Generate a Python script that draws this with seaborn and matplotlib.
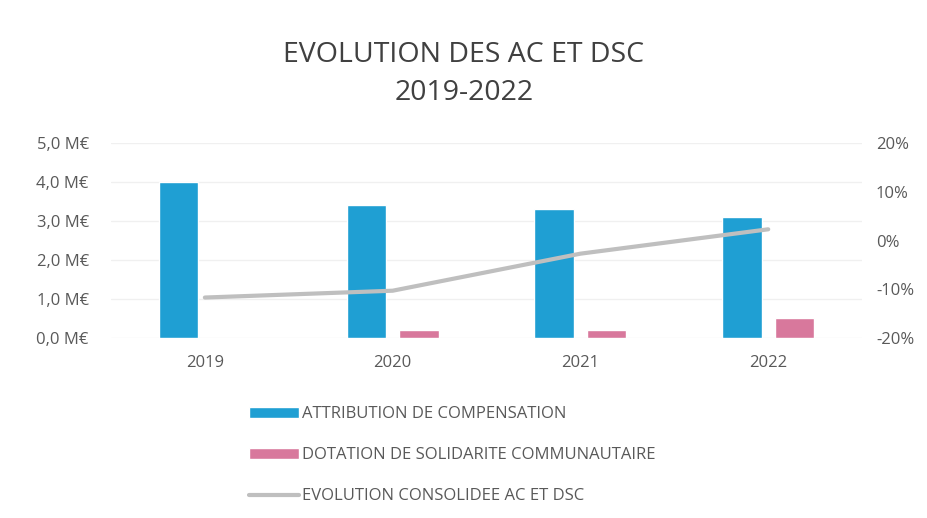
import numpy as np
import pandas as pd
import seaborn as sns
import matplotlib.pyplot as plt
from matplotlib.ticker import FuncFormatter

# =========================
# Data
# =========================
years = ['2019', '2020', '2021', '2022']
ac_values = [4.0, 3.4, 3.3, 3.1]          # M€
dsc_values = [0.0, 0.2, 0.2, 0.5]         # M€
evolution_pct = [-11.7, -10.3, -2.7, 2.3]  # %

label_ac = 'ATTRIBUTION DE COMPENSATION'
label_dsc = 'DOTATION DE SOLIDARITE COMMUNAUTAIRE'
label_evo = 'EVOLUTION CONSOLIDEE AC ET DSC'

df = pd.DataFrame({
    'year': years * 2,
    'value': ac_values + dsc_values,
    'serie': [label_ac] * 4 + [label_dsc] * 4,
})
df_line = pd.DataFrame({'x': np.arange(len(years)), 'evo': evolution_pct})

sns.set_style('white')
plt.rcParams['font.family'] = ['Open Sans', 'DejaVu Sans']
text_col = '#595959'

fig = plt.figure(figsize=(9.28, 5.18), dpi=100)
ax = fig.add_axes([0.1196, 0.3475, 0.8094, 0.3764])

# =========================
# Bars
# =========================
sns.barplot(data=df, x='year', y='value', hue='serie', ax=ax,
            palette=['#1f9fd3', '#d8789c'], width=0.56, gap=0.25,
            saturation=1)
ax.set_ylim(0, 5)
ax.set_yticks([0, 1, 2, 3, 4, 5])
ax.yaxis.set_major_formatter(FuncFormatter(lambda v, p: f'{v:.1f} M€'.replace('.', ',')))
ax.grid(axis='y', color='#f0f0f0', lw=1)
ax.set_axisbelow(True)
ax.set_xlabel('')
ax.set_ylabel('')
ax.tick_params(axis='x', pad=12, labelsize=12, colors=text_col, length=0)
ax.tick_params(axis='y', pad=16, labelsize=12, colors=text_col, length=0)
sns.despine(ax=ax, left=True, bottom=True)
handles, labels = ax.get_legend_handles_labels()
ax.get_legend().remove()

# =========================
# Line (secondary axis)
# =========================
ax2 = ax.twinx()
sns.lineplot(data=df_line, x='x', y='evo', ax=ax2, color='#bfbfbf', lw=3,
             label=label_evo, legend=False)
ax2.set_ylim(-20, 20)
ax2.set_yticks([-20, -10, 0, 10, 20])
ax2.yaxis.set_major_formatter(FuncFormatter(lambda v, p: f'{v:.0f}%'))
ax2.set_ylabel('')
ax2.tick_params(axis='y', pad=10, labelsize=12, colors=text_col, length=0)
sns.despine(ax=ax2, left=True, bottom=True, right=True)
ax.set_xlim(-0.5, 3.5)
h2, l2 = ax2.get_legend_handles_labels()

# =========================
# Title and legend
# =========================
fig.text(0.5, 0.857, 'EVOLUTION DES AC ET DSC\n2019-2022', ha='center', va='center',
         fontsize=20.5, color='#404040', linespacing=1.5)

fig.legend(handles + h2, labels + l2, loc='upper left', bbox_to_anchor=(0.252, 0.245),
           frameon=False, fontsize=12, labelcolor=text_col, handlelength=3.0,
           handleheight=0.6, handletextpad=0.2, labelspacing=1.5)

plt.savefig('out.png', dpi=100)
